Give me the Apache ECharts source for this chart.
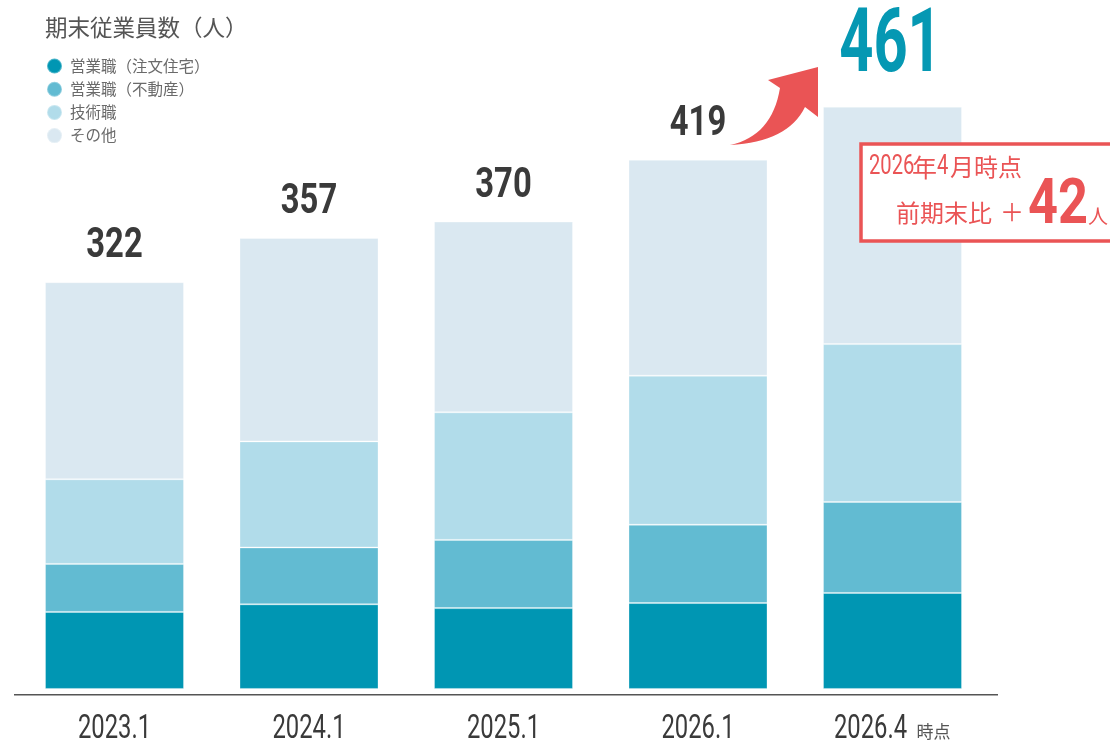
<!DOCTYPE html>
<html>
<head>
<meta charset="utf-8">
<script src="https://cdn.jsdelivr.net/npm/echarts@6/dist/echarts.min.js"></script>
<style>
html,body{margin:0;padding:0;background:#fff;}
#chart{width:1110px;height:744px;}
</style>
</head>
<body>
<div id="chart"></div>
<script>
const categories = ['2023.1', '2024.1', '2025.1', '2026.1', '2026.4'];
const seriesNames = ['営業職（注文住宅）', '営業職（不動産）', '技術職', 'その他'];
const salesHouse = [61, 67, 64, 68, 76];
const salesRealEstate = [38, 45, 54, 62, 72];
const engineers = [67, 84, 101, 118, 125];
const others = [156, 161, 151, 171, 188];
const totals = [322, 357, 370, 419, 461];
const titleText = '期末従業員数（人）';
const lastSuffix = '時点';

const colors = ['#0096b3', '#62bbd2', '#b1dcea', '#dae8f1'];
const RED = '#ea5455';
const COND = 'Roboto, "Liberation Sans", sans-serif';
const JP = '"Noto Sans CJK JP", "Noto Sans", sans-serif';

const chart = echarts.init(document.getElementById('chart'));
const lastIdx = totals.length - 1;
const diff = totals[lastIdx] - totals[lastIdx - 1];

function barSeries(name, data, idx) {
  return {
    name: name,
    type: 'bar',
    stack: 'total',
    barWidth: 139,
    data: data,
    itemStyle: { color: colors[idx], borderColor: 'rgba(255,255,255,0.3)', borderWidth: 1 },
    emphasis: { disabled: true },
    animation: false
  };
}

chart.setOption({
  animation: false,
  title: {
    text: titleText,
    left: 40,
    top: 11,
    textStyle: { fontFamily: JP, fontSize: 22.5, fontWeight: 'normal', color: '#555' }
  },
  legend: {
    orient: 'vertical',
    left: 41,
    top: 52.5,
    icon: 'circle',
    itemWidth: 21,
    itemHeight: 15,
    itemGap: 6.2,
    data: seriesNames,
    textStyle: { fontFamily: JP, fontSize: 15.5, color: '#6a6a6a', lineHeight: 15 }
  },
  grid: { left: 17.25, width: 972.5, bottom: 50, top: 57.4, containLabel: false },
  xAxis: {
    type: 'category',
    data: categories,
    axisLine: { show: false },
    axisTick: { show: false },
    axisLabel: { show: false }
  },
  yAxis: { type: 'value', min: -4, max: 500, show: false, splitLine: { show: false } },
  series: [
    barSeries(seriesNames[0], salesHouse, 0),
    barSeries(seriesNames[1], salesRealEstate, 1),
    barSeries(seriesNames[2], engineers, 2),
    barSeries(seriesNames[3], others, 3)
  ]
});

function txt(text, x, y, size, o) {
  o = o || {};
  return {
    type: 'text', x: x, y: y, scaleX: o.scaleX || 1, z: o.z || 30,
    style: {
      text: text, x: 0, y: 0, fill: o.fill || '#3a3a3a', fontSize: size,
      fontFamily: o.font || COND, fontWeight: o.weight || 'normal',
      align: o.align || 'center', verticalAlign: 'middle'
    }
  };
}
function quad(p0, c, p1, n) {
  const pts = [];
  for (let i = 0; i <= n; i++) {
    const t = i / n, u = 1 - t;
    pts.push([u * u * p0[0] + 2 * u * t * c[0] + t * t * p1[0], u * u * p0[1] + 2 * u * t * c[1] + t * t * p1[1]]);
  }
  return pts;
}
const arrowPts = [].concat(
  quad([730, 145], [772, 136], [780, 88], 16),
  [[768, 80], [818, 67], [818, 117]],
  quad([805, 107], [788, 142], [730, 145], 16)
);

const gfx = [];
let zeroY = 0;
categories.forEach((c, i) => {
  const top = chart.convertToPixel({ gridIndex: 0 }, [c, totals[i]]);
  const base = chart.convertToPixel({ gridIndex: 0 }, [c, 0]);
  zeroY = base[1];
  if (i === lastIdx) {
    gfx.push(txt(String(totals[i]), top[0] - 2, top[1] - 58, 89, { weight: 'bold', fill: '#0598b3', scaleX: 0.67 }));
    gfx.push(txt(c, base[0] - 22, base[1] + 41, 34, { scaleX: 0.7 }));
    gfx.push(txt(lastSuffix, base[0] + 24, base[1] + 43, 17, { font: JP, align: 'left', fill: '#555' }));
  } else {
    gfx.push(txt(String(totals[i]), top[0], top[1] - 35.5, 42, { weight: 'bold', scaleX: 0.78 }));
    gfx.push(txt(c, base[0], base[1] + 41, 34, { scaleX: 0.7 }));
  }
});

gfx.push(
  { type: 'line', shape: { x1: 14, y1: zeroY + 5.8, x2: 998, y2: zeroY + 5.8 }, style: { stroke: '#555', lineWidth: 1.5 }, z: 10 },
  { type: 'polygon', z: 20, shape: { points: arrowPts }, style: { fill: RED } },
  { type: 'rect', z: 20, shape: { x: 861, y: 144, width: 300, height: 97 }, style: { fill: '#fff', stroke: RED, lineWidth: 3.5 } },
  txt('2026', 869, 167, 28, { align: 'left', fill: RED, scaleX: 0.72 }),
  txt('年', 912, 167, 25, { align: 'left', fill: RED, font: JP }),
  txt('4', 937, 167, 28, { align: 'left', fill: RED, scaleX: 0.72 }),
  txt('月時点', 950, 167, 24, { align: 'left', fill: RED, font: JP }),
  txt('前期末比', 896, 213, 24, { align: 'left', fill: RED, font: JP }),
  txt('＋', 1000, 212, 24, { align: 'left', fill: RED, font: JP }),
  txt(String(diff), 1028, 207.5, 63, { align: 'left', fill: RED, weight: 'bold', scaleX: 0.83 }),
  txt('人', 1088, 216.5, 20, { align: 'left', fill: RED, font: JP })
);

chart.setOption({ graphic: gfx });
</script>
</body>
</html>
